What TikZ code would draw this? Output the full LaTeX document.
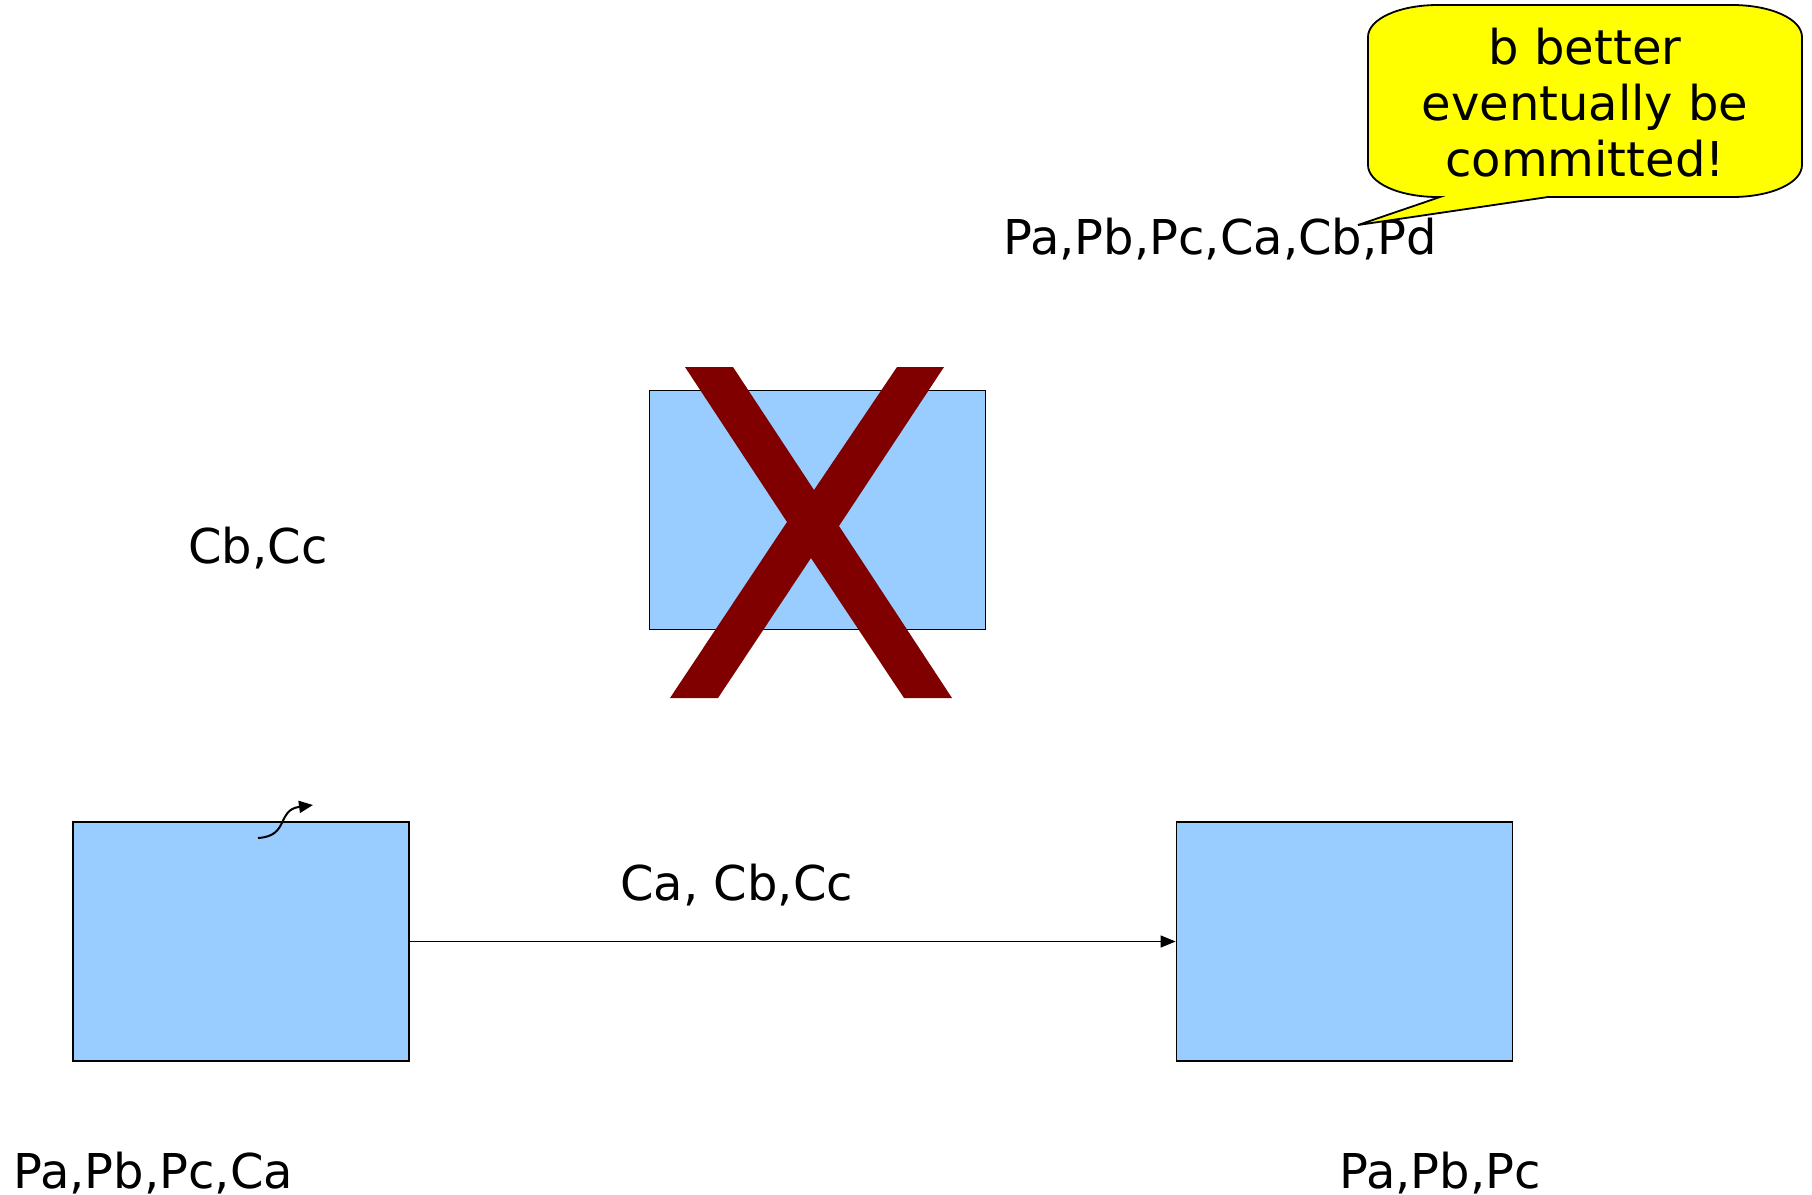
\documentclass[tikz,border=0pt]{standalone}
\usepackage{fontspec}
\setmainfont{DejaVu Sans}
\usetikzlibrary{arrows.meta}
\definecolor{boxblue}{HTML}{99CCFF}
\definecolor{xred}{HTML}{800000}
\definecolor{callyellow}{HTML}{FFFF00}
\begin{document}
\begin{tikzpicture}[x=0.5pt,y=-0.5pt,
  bluebox/.style={draw=black,line width=0.9pt,fill=boxblue,inner sep=0pt,minimum width=168pt,minimum height=119.5pt},
  lbl/.style={anchor=base west,inner sep=0pt,font=\fontsize{24pt}{28pt}\selectfont},
  conn/.style={line width=0.7pt,-{Triangle[length=7.5pt,width=6pt]}}
]
\useasboundingbox (0,0) rectangle (1812,1195);
\fill[white] (0,0) rectangle (1812,1195);

% boxes
\node[bluebox] (top) at (817.5,510) {};
\node[bluebox] (left) at (241,941.5) {};
\node[bluebox] (right) at (1344.5,941.5) {};

% big X over top box
\fill[xred] (685,367) -- (733,367) -- (814,490) -- (897,367) -- (944,367)
  -- (839,526) -- (952,698) -- (904,698) -- (811,558) -- (718,698)
  -- (670,698) -- (787,522) -- cycle;

% connector
\draw[conn] (left.east) -- (right.west);

% labels
\node[lbl] (lca) at (620,900) {Ca, Cb,Cc};
\node[lbl] (lcbcc) at (188,563) {Cb,Cc};
\node[lbl] (lpl) at (13,1188) {Pa,Pb,Pc,Ca};
\node[lbl] (lpr) at (1339,1188) {Pa,Pb,Pc};
\node[lbl] (lpd) at (1003,254) {Pa,Pb,Pc,Ca,Cb,Pd};

% small curved arrow
\coordinate (cs) at (258,838);
\coordinate (ce) at (313,805);
\draw[line width=1pt,-{Triangle[length=7pt,width=6pt]}] (cs) .. controls (290,836) and (276,810) .. (ce);

% callout
\coordinate (tip) at (1358,225);
\draw[line width=0.9pt,fill=callyellow,line join=miter]
  (1440,197) -- (tip) -- (1548,197) -- (1732,197)
  .. controls (1771,197) and (1802,183) .. (1802,165) -- (1802,37)
  .. controls (1802,19) and (1771,5) .. (1732,5) -- (1438,5)
  .. controls (1399,5) and (1368,19) .. (1368,37) -- (1368,165)
  .. controls (1368,183) and (1399,197) .. (1438,197) -- cycle;
\node[align=center,inner sep=0pt,font=\fontsize{24pt}{28pt}\selectfont] (call) at (1585,102.5)
  {b better\\eventually be\\committed!};
\end{tikzpicture}
\end{document}
